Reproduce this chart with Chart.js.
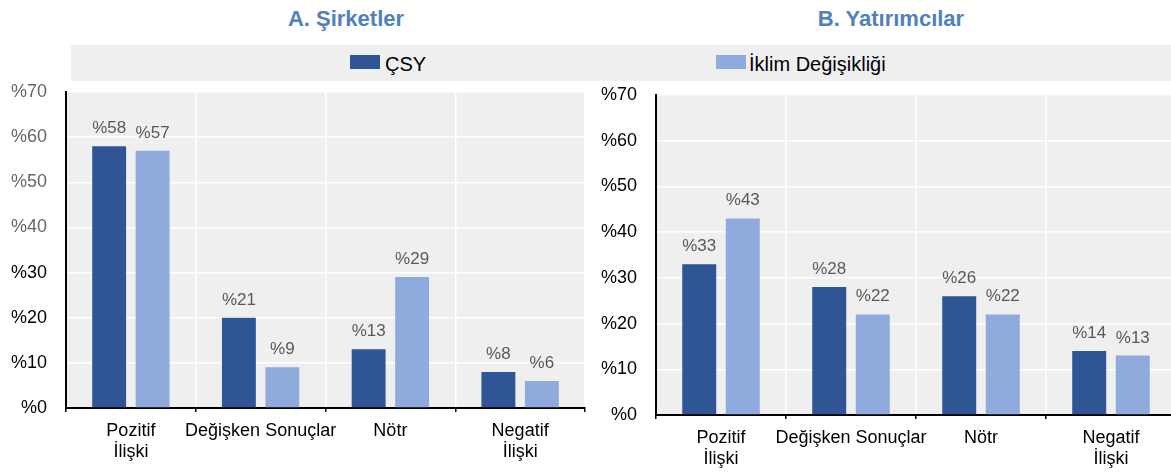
<!DOCTYPE html>
<html lang="tr">
<head>
    <meta charset="UTF-8">
    <title>Şirketler ve Yatırımcılar</title>
    <style>
        body {
            margin: 0;
            width: 1171px;
            height: 472px;
            overflow: hidden;
            position: relative;
            background: #fff;
            font-family: "Liberation Sans", Arial, sans-serif;
        }

        .title {
            position: absolute;
            top: 8px;
            width: 400px;
            text-align: center;
            font-size: 22px;
            line-height: 22px;
            font-weight: bold;
            color: #4f81bd;
        }

        #legend {
            position: absolute;
            left: 71px;
            top: 45px;
            width: 1100px;
            height: 36px;
            background: #efefef;
            z-index: 2;
        }

        .swatch {
            position: absolute;
            top: 10px;
            width: 30px;
            height: 14px;
        }

        .legend-text {
            position: absolute;
            top: 9px;
            font-size: 20px;
            line-height: 20px;
            color: #000;
        }

        canvas {
            position: absolute;
            top: 80px;
        }
    </style>
</head>
<body>
<div class="title" style="left: 146px;">A. Şirketler</div>
<div class="title" style="left: 691px;">B. Yatırımcılar</div>

<div id="legend">
    <div class="swatch" style="left: 279px; background: #2f5597;"></div>
    <span class="legend-text" style="left: 314px;">ÇSY</span>
    <div class="swatch" style="left: 645px; background: #8faadc;"></div>
    <span class="legend-text" style="left: 678px;">İklim Değişikliği</span>
</div>

<canvas id="companyChart" width="600" height="392" style="left: 0;"></canvas>
<canvas id="investorChart" width="600" height="392" style="left: 590px;"></canvas>

<script src="https://cdn.jsdelivr.net/npm/chart.js"></script>
<script>
    const categories = [["Pozitif", "İlişki"], "Değişken Sonuçlar", "Nötr", ["Negatif", "İlişki"]];
    const seriesNames = ["ÇSY", "İklim Değişikliği"];

    // A. Şirketler
    const companyCsy = [58, 20, 13, 8];
    const companyCsyLabels = ["%58", "%21", "%13", "%8"];
    const companyClimate = [57, 9, 29, 6];
    const companyClimateLabels = ["%57", "%9", "%29", "%6"];

    // B. Yatırımcılar
    const investorCsy = [33, 28, 26, 14];
    const investorCsyLabels = ["%33", "%28", "%26", "%14"];
    const investorClimate = [43, 22, 22, 13];
    const investorClimateLabels = ["%43", "%22", "%22", "%13"];

    const yTicks = [0, 10, 20, 30, 40, 50, 60, 70];
    const colors = ["#2f5597", "#8faadc"];

    Chart.defaults.font.family = '"Liberation Sans", Arial, sans-serif';

    const plotBackground = {
        id: 'plotBackground',
        beforeDraw(chart) {
            const {ctx, chartArea: a} = chart;
            ctx.save();
            ctx.fillStyle = '#efefef';
            ctx.fillRect(a.left, a.top, a.right - a.left, a.bottom - a.top);
            ctx.restore();
        }
    };

    // percentage text above each bar
    const barLabels = {
        id: 'barLabels',
        afterDatasetsDraw(chart) {
            const ctx = chart.ctx;
            ctx.save();
            ctx.font = '17px "Liberation Sans", Arial, sans-serif';
            ctx.fillStyle = '#595959';
            ctx.textAlign = 'center';
            ctx.textBaseline = 'alphabetic';
            chart.data.datasets.forEach((ds, i) => {
                chart.getDatasetMeta(i).data.forEach((bar, j) => {
                    ctx.fillText(ds.valueLabels[j], bar.x, bar.y - 13);
                });
            });
            ctx.restore();
        }
    };

    function renderChart(canvasId, csy, csyLabels, climate, climateLabels, pad, xHeight, tickColor) {
        const ctx = document.getElementById(canvasId).getContext('2d');
        new Chart(ctx, {
            type: 'bar',
            data: {
                labels: categories,
                datasets: [
                    {label: seriesNames[0], data: csy, valueLabels: csyLabels, backgroundColor: colors[0]},
                    {label: seriesNames[1], data: climate, valueLabels: climateLabels, backgroundColor: colors[1]}
                ]
            },
            options: {
                responsive: false,
                animation: false,
                devicePixelRatio: 1,
                categoryPercentage: 0.67,
                barPercentage: 0.78,
                layout: {padding: {top: pad.top, right: pad.right, left: 0, bottom: 0}},
                plugins: {
                    legend: {display: false},
                    tooltip: {enabled: false}
                },
                scales: {
                    x: {
                        afterFit: (scale) => {
                            scale.height = xHeight;
                            scale.paddingLeft = 0;
                            scale.paddingRight = 0;
                        },
                        grid: {
                            color: (c) => c.index === 0 ? 'rgba(0,0,0,0)' : '#ffffff',
                            lineWidth: 1.5,
                            tickColor: '#000',
                            tickLength: 4,
                            tickWidth: 1.5
                        },
                        border: {color: '#000', width: 2},
                        ticks: {
                            color: '#000',
                            font: {size: 18},
                            padding: 8,
                            maxRotation: 0,
                            minRotation: 0,
                            autoSkip: false
                        }
                    },
                    y: {
                        min: 0,
                        max: 70,
                        afterFit: (scale) => {
                            scale.width = 66;
                            scale.paddingTop = 0;
                            scale.paddingBottom = 0;
                        },
                        afterBuildTicks: (scale) => { scale.ticks = yTicks.map(v => ({value: v})); },
                        grid: {
                            color: (c) => c.index === 0 ? 'rgba(0,0,0,0)' : '#ffffff',
                            lineWidth: 1.5,
                            drawTicks: false
                        },
                        border: {color: '#000', width: 2},
                        ticks: {
                            color: tickColor,
                            font: {size: 18},
                            padding: 19,
                            callback: (v) => '%' + v
                        }
                    }
                }
            },
            plugins: [plotBackground, barLabels]
        });
    }

    renderChart('companyChart', companyCsy, companyCsyLabels, companyClimate, companyClimateLabels,
        {top: 12, right: 15}, 64, (c) => c.tick && c.tick.value >= 40 ? '#666' : '#000');
    renderChart('investorChart', investorCsy, investorCsyLabels, investorClimate, investorClimateLabels,
        {top: 15, right: 14}, 57, '#000');
</script>
</body>
</html>
